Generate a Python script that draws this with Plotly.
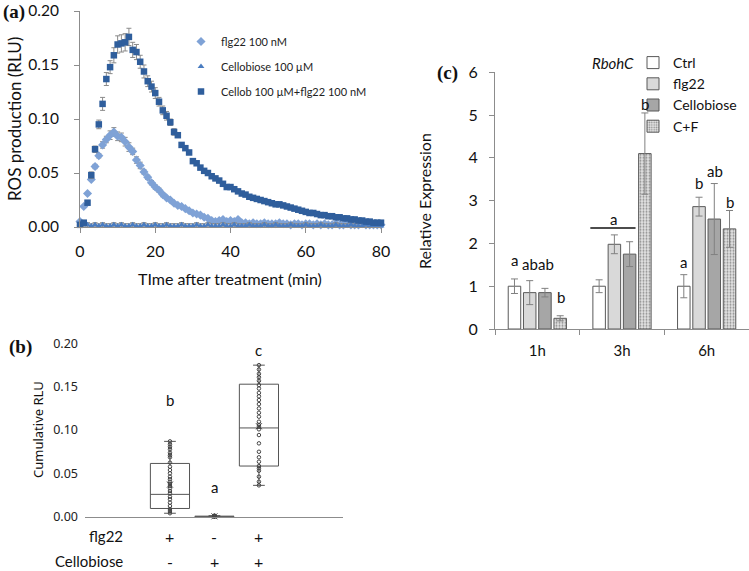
import plotly.graph_objects as go

# ---------------- data: panel (a) ROS kinetics ----------------
time_min = list(range(0, 81))

flg22_ros = [0.005, 0.019, 0.031, 0.044, 0.056, 0.066, 0.076, 0.081, 0.085, 0.088,
             0.084, 0.083, 0.079, 0.074, 0.070, 0.062, 0.057, 0.051, 0.046, 0.041,
             0.037, 0.034, 0.030, 0.027, 0.025, 0.022, 0.020, 0.019, 0.017, 0.015,
             0.013, 0.012, 0.011, 0.009, 0.008, 0.006, 0.005, 0.006, 0.007, 0.005,
             0.006, 0.005, 0.007, 0.004, 0.004, 0.003, 0.004, 0.003, 0.003, 0.004,
             0.003, 0.003, 0.003, 0.004, 0.003, 0.003, 0.002, 0.003, 0.003, 0.002,
             0.003, 0.003, 0.002, 0.003, 0.002, 0.003, 0.002, 0.002, 0.003, 0.002,
             0.002, 0.003, 0.002, 0.002, 0.002, 0.003, 0.002, 0.002, 0.002, 0.002,
             0.002]
flg22_err = [0.001, 0.001, 0.001, 0.001, 0.002, 0.002, 0.003, 0.003, 0.004, 0.004,
             0.004, 0.004, 0.004, 0.004, 0.003, 0.003, 0.003, 0.002, 0.002, 0.002,
             0.002, 0.002, 0.002, 0.001, 0.001, 0.001, 0.001, 0.001, 0.001, 0.001,
             0.001, 0.001, 0.001, 0.001, 0.001, 0.001, 0.001, 0.001, 0.001, 0.001,
             0.001, 0.001, 0.001, 0.001, 0.001, 0.001, 0.001, 0.001, 0.001, 0.001,
             0.001, 0.001, 0.001, 0.001, 0.001, 0.001, 0.001, 0.001, 0.001, 0.001,
             0.001, 0.001, 0.001, 0.001, 0.001, 0.001, 0.001, 0.001, 0.001, 0.001,
             0.001, 0.001, 0.001, 0.001, 0.001, 0.001, 0.001, 0.001, 0.001, 0.001,
             0.001]

cello_ros = [0.003, 0.002, 0.002, 0.001, 0.002, 0.001, 0.002, 0.001, 0.001, 0.002,
             0.001, 0.002, 0.001, 0.001, 0.002, 0.001, 0.001, 0.002, 0.001, 0.001,
             0.002, 0.001, 0.001, 0.002, 0.001, 0.001, 0.001, 0.002, 0.001, 0.001,
             0.001, 0.002, 0.001, 0.001, 0.002, 0.001, 0.001, 0.001, 0.002, 0.001,
             0.001, 0.002, 0.001, 0.001, 0.001, 0.002, 0.001, 0.001, 0.001, 0.002,
             0.001, 0.001, 0.002, 0.001, 0.001, 0.001, 0.002, 0.001, 0.001, 0.001,
             0.002, 0.001, 0.001, 0.001, 0.002, 0.001, 0.001, 0.001, 0.002, 0.001,
             0.001, 0.001, 0.002, 0.001, 0.001, 0.001, 0.002, 0.001, 0.001, 0.001,
             0.001]
cello_err = [0.002] * 81

combo_ros = [0.002, 0.004, 0.0225, 0.048, 0.072, 0.095, 0.114, 0.137, 0.148, 0.159,
             0.169, 0.170, 0.171, 0.176, 0.164, 0.162, 0.153, 0.144, 0.135, 0.130,
             0.124, 0.116, 0.108, 0.103, 0.097, 0.088, 0.085, 0.076, 0.073, 0.069,
             0.061, 0.059, 0.055, 0.052, 0.050, 0.047, 0.045, 0.043, 0.040, 0.037,
             0.037, 0.035, 0.033, 0.031, 0.030, 0.028, 0.027, 0.026, 0.025, 0.024,
             0.023, 0.022, 0.021, 0.021, 0.020, 0.019, 0.018, 0.017, 0.016, 0.015,
             0.014, 0.013, 0.013, 0.012, 0.011, 0.011, 0.010, 0.010, 0.009, 0.009,
             0.008, 0.008, 0.007, 0.007, 0.006, 0.006, 0.005, 0.005, 0.004, 0.004,
             0.004]
combo_err = [0.001, 0.001, 0.002, 0.003, 0.003, 0.004, 0.006, 0.006, 0.006, 0.007,
             0.008, 0.008, 0.008, 0.008, 0.007, 0.007, 0.006, 0.006, 0.005, 0.005,
             0.005, 0.004, 0.004, 0.004, 0.003, 0.003, 0.002, 0.002, 0.002, 0.002,
             0.002, 0.002, 0.002, 0.002, 0.002, 0.002, 0.002, 0.002, 0.002, 0.002,
             0.002, 0.001, 0.001, 0.001, 0.001, 0.001, 0.001, 0.001, 0.001, 0.001,
             0.001, 0.001, 0.001, 0.001, 0.001, 0.001, 0.001, 0.001, 0.001, 0.001,
             0.001, 0.001, 0.001, 0.001, 0.001, 0.001, 0.001, 0.001, 0.001, 0.001,
             0.001, 0.001, 0.001, 0.001, 0.001, 0.001, 0.001, 0.001, 0.001, 0.001,
             0.001]

# ---------------- data: panel (b) cumulative RLU ----------------
box_pos = [1, 2, 3]
box_q1 = [0.0095, 0.0000, 0.0585]
box_median = [0.0258, 0.0003, 0.1025]
box_q3 = [0.0615, 0.0006, 0.1530]
box_low = [0.0040, 0.0000, 0.0362]
box_high = [0.0870, 0.0012, 0.1750]
box_mean = [0.0370, 0.0004, 0.1045]
box_letters = ["b", "a", "c"]
box_letter_y = [0.135, 0.034, 0.192]

pts_flg22 = [0.0870, 0.0836, 0.0808, 0.0778, 0.0739, 0.0709, 0.0686, 0.0624, 0.0577,
             0.0539, 0.0501, 0.0462, 0.0432, 0.0404, 0.0378, 0.0354, 0.0328, 0.0297,
             0.0270, 0.0231, 0.0201, 0.0162, 0.0124, 0.0089, 0.0066, 0.0040]
pts_cello = [0.0000, 0.0002, 0.0004, 0.0006, 0.0008, 0.0010, 0.0012]
pts_combo = [0.1750, 0.1700, 0.1650, 0.1610, 0.1570, 0.1520, 0.1480, 0.1430, 0.1390,
             0.1347, 0.1300, 0.1250, 0.1200, 0.1155, 0.1097, 0.1059, 0.1039, 0.1009,
             0.0943, 0.0847, 0.0750, 0.0686, 0.0635, 0.0585, 0.0559, 0.0531, 0.0462,
             0.0404, 0.0362]
row_flg22 = ["+", "-", "+"]
row_cello = ["-", "+", "+"]

# ---------------- data: panel (c) RbohC expression ----------------
time_points = ["1h", "3h", "6h"]
expr_ctrl = [1.00, 1.00, 1.00]
expr_ctrl_err = [0.17, 0.15, 0.27]
expr_flg22 = [0.85, 1.98, 2.86]
expr_flg22_err = [0.28, 0.22, 0.22]
expr_cello = [0.85, 1.75, 2.57]
expr_cello_err = [0.10, 0.29, 0.83]
expr_cf = [0.25, 4.10, 2.34]
expr_cf_err = [0.06, 0.95, 0.43]

W, H = 749, 571
FONT = "Lato"


def fx(p):
    return p / W


def fy(p):
    return 1 - p / H


fig = go.Figure()

# ---- panel (a)
ebar = dict(type="data", color="#8a8a8a", thickness=1, width=2.5)
fig.add_trace(go.Scatter(
    x=time_min, y=flg22_ros, mode="markers", name="flg22 100 nM",
    marker=dict(symbol="diamond", size=7, color="#7FA2D6"),
    error_y=dict(array=flg22_err, **ebar), cliponaxis=False,
    xaxis="x", yaxis="y", legend="legend", legendgroup="a1"))
fig.add_trace(go.Scatter(
    x=time_min, y=cello_ros, mode="markers", name="Cellobiose 100 µM",
    marker=dict(symbol="triangle-up", size=6, color="#4A7CC0"),
    error_y=dict(array=cello_err, **ebar), cliponaxis=False,
    xaxis="x", yaxis="y", legend="legend", legendgroup="a2"))
fig.add_trace(go.Scatter(
    x=time_min, y=combo_ros, mode="markers", name="Cellob 100 µM+flg22 100 nM",
    marker=dict(symbol="square", size=6.5, color="#2F5E9C"),
    error_y=dict(array=combo_err, **ebar), cliponaxis=False,
    xaxis="x", yaxis="y", legend="legend", legendgroup="a3"))

# ---- panel (b)
fig.add_trace(go.Box(
    x=box_pos, q1=box_q1, median=box_median, q3=box_q3,
    lowerfence=box_low, upperfence=box_high,
    width=0.88, whiskerwidth=0.3, fillcolor="rgba(255,255,255,0)",
    line=dict(color="#555555", width=1), boxpoints=False,
    xaxis="x2", yaxis="y2", showlegend=False, hoverinfo="skip"))
for pos, pts in zip(box_pos, [pts_flg22, pts_cello, pts_combo]):
    fig.add_trace(go.Scatter(
        x=[pos] * len(pts), y=pts, mode="markers",
        marker=dict(symbol="circle-open", size=3.5, color="#444444", line=dict(width=1)),
        xaxis="x2", yaxis="y2", showlegend=False, cliponaxis=False))
fig.add_trace(go.Scatter(
    x=box_pos, y=box_mean, mode="markers",
    marker=dict(symbol="x-thin-open", size=6, color="#444444", line=dict(width=1, color="#444444")),
    xaxis="x2", yaxis="y2", showlegend=False, cliponaxis=False))

# ---- panel (c)
bar_line = dict(color="#595959", width=1)
cerr = dict(type="data", color="#808080", thickness=1, width=3.5)
series_c = [
    ("Ctrl", expr_ctrl, expr_ctrl_err, dict(color="white", line=bar_line)),
    ("flg22", expr_flg22, expr_flg22_err, dict(color="#D9D9D9", line=bar_line)),
    ("Cellobiose", expr_cello, expr_cello_err, dict(color="#A6A6A6", line=bar_line)),
    ("C+F", expr_cf, expr_cf_err, dict(color="#E0E0E0", line=bar_line,
                                      pattern=dict(shape=".", fgcolor="#8C8C8C", bgcolor="#E4E4E4",
                                                   size=3, solidity=0.35))),
]
for name, vals, errs, mk in series_c:
    fig.add_trace(go.Bar(
        x=time_points, y=vals, name=name, marker=mk,
        error_y=dict(array=errs, **cerr),
        xaxis="x3", yaxis="y3", legend="legend2"))

axis_common = dict(showgrid=False, zeroline=False, showline=True, linecolor="#8C8C8C",
                   linewidth=1, ticks="outside", ticklen=5, tickcolor="#8C8C8C",
                   automargin=False)

fig.update_layout(
    template="none",
    width=W, height=H, margin=dict(l=0, r=0, t=0, b=0, autoexpand=False),
    paper_bgcolor="white", plot_bgcolor="rgba(0,0,0,0)",
    font=dict(family=FONT, color="#111111"),
    barmode="group", bargap=0.28, bargroupgap=0.18,
    xaxis=dict(domain=[fx(80), fx(381)], range=[0, 80], tickvals=[0, 20, 40, 60, 80],
               anchor="y", tickfont=dict(size=16, color="#111"), ticklabelstandoff=5,
               **axis_common),
    yaxis=dict(domain=[fy(227), fy(11)], range=[0, 0.2], tickvals=[0, 0.05, 0.10, 0.15, 0.20],
               tickformat=".2f", anchor="x", tickfont=dict(size=15.5, color="#111"),
               ticklabelstandoff=12, **axis_common),
    xaxis2=dict(domain=[fx(85), fx(343)], range=[-0.91, 4.89], anchor="y2",
                showticklabels=False, showgrid=False, zeroline=False, showline=True,
                linecolor="#8C8C8C", linewidth=1, ticks="", automargin=False),
    yaxis2=dict(domain=[fy(516.7), fy(343.5)], range=[0, 0.2], tickvals=[0, 0.05, 0.10, 0.15, 0.20],
                tickformat=".2f", anchor="x2", showgrid=False, zeroline=False, showline=False,
                ticks="", ticklabelstandoff=6, automargin=False,
                tickfont=dict(size=12.5, family="Noto Sans", color="#222")),
    xaxis3=dict(domain=[fx(495), 1.0], type="category", anchor="y3", tickson="boundaries",
                range=[-0.5, 2.5], tickfont=dict(size=15, color="#111"), ticklabelstandoff=8,
                **axis_common),
    yaxis3=dict(domain=[fy(329), fy(72.3)], range=[0, 6], dtick=1, anchor="x3",
                tickfont=dict(size=16, color="#111"), ticklabelstandoff=8,
                **axis_common),
    legend=dict(x=fx(181), y=fy(27), xanchor="left", yanchor="top",
                font=dict(size=11, color="#222"), bgcolor="rgba(0,0,0,0)",
                traceorder="grouped", tracegroupgap=6, itemsizing="trace"),
    legend2=dict(x=fx(633), y=fy(47), xanchor="left", yanchor="top",
                 font=dict(size=14, color="#111"), bgcolor="rgba(0,0,0,0)",
                 traceorder="normal", tracegroupgap=0),
    showlegend=True,
)

ann = []
C = dict(xanchor="center", yanchor="middle", showarrow=False)
# axis titles
titles = [("ROS production (RLU)", 15, 119, -90, 17, FONT),
          ("TIme after treatment (min)", 230, 278, 0, 16, FONT),
          ("Cumulative RLU", 38, 430, -90, 13, "Noto Sans"),
          ("Relative Expression", 425, 201, -90, 16, FONT)]
for txt, x, y, ang, sz, fam in titles:
    ann.append(dict(text=txt, x=fx(x), y=fy(y), xref="paper", yref="paper", textangle=ang,
                    font=dict(size=sz, family=fam, color="#111"), **C))
# panel labels
for txt, x, y in [("(a)", 14, 12), ("(b)", 20, 347), ("(c)", 447, 73)]:
    ann.append(dict(text=f"<b>{txt}</b>", x=fx(x), y=fy(y), xref="paper", yref="paper",
                    font=dict(family="Liberation Serif", size=19, color="#111"), **C))
# panel (b) letters and treatment rows
for pos, lab, ly in zip(box_pos, box_letters, box_letter_y):
    ann.append(dict(text=lab, x=pos, y=ly, xref="x2", yref="y2",
                    font=dict(size=15, color="#111"), **C))
for pos, s1, s2 in zip(box_pos, row_flg22, row_cello):
    ann.append(dict(text=s1, x=pos, y=fy(536), xref="x2", yref="paper",
                    font=dict(size=16, color="#111"), **C))
    ann.append(dict(text=s2, x=pos, y=fy(561), xref="x2", yref="paper",
                    font=dict(size=16, color="#111"), **C))
ann.append(dict(text="flg22", x=fx(125), y=fy(536), xref="paper", yref="paper", xanchor="right",
                yanchor="middle", showarrow=False, font=dict(size=15, color="#111")))
ann.append(dict(text="Cellobiose", x=fx(125), y=fy(561), xref="paper", yref="paper", xanchor="right",
                yanchor="middle", showarrow=False, font=dict(size=15, color="#111")))
# panel (c) letters
c_letters = [("a", -0.27, 1.62), ("ab", -0.085, 1.52), ("ab", 0.1, 1.52), ("b", 0.28, 0.74),
             ("a", 0.9, 2.56), ("b", 1.27, 5.25),
             ("a", 1.73, 1.56), ("b", 1.91, 3.42), ("ab", 2.1, 3.7), ("b", 2.28, 2.97)]
for lab, x, y in c_letters:
    ann.append(dict(text=lab, x=x, y=y, xref="x3", yref="y3",
                    font=dict(size=15, color="#111"), **C))
ann.append(dict(text="<i>RbohC</i>", x=fx(613), y=fy(63), xref="paper", yref="paper",
                font=dict(size=15, color="#111"), **C))
fig.update_layout(annotations=ann)

fig.add_shape(type="line", x0=0.626, x1=1.16, y0=2.36, y1=2.36, xref="x3", yref="y3",
              line=dict(color="#111", width=1.5))

# remove the browser's default 8px page margin so the figure sits at the window origin
fig.write_html("out.html", config={"displayModeBar": False},
               post_script="document.body.style.margin='0';")
